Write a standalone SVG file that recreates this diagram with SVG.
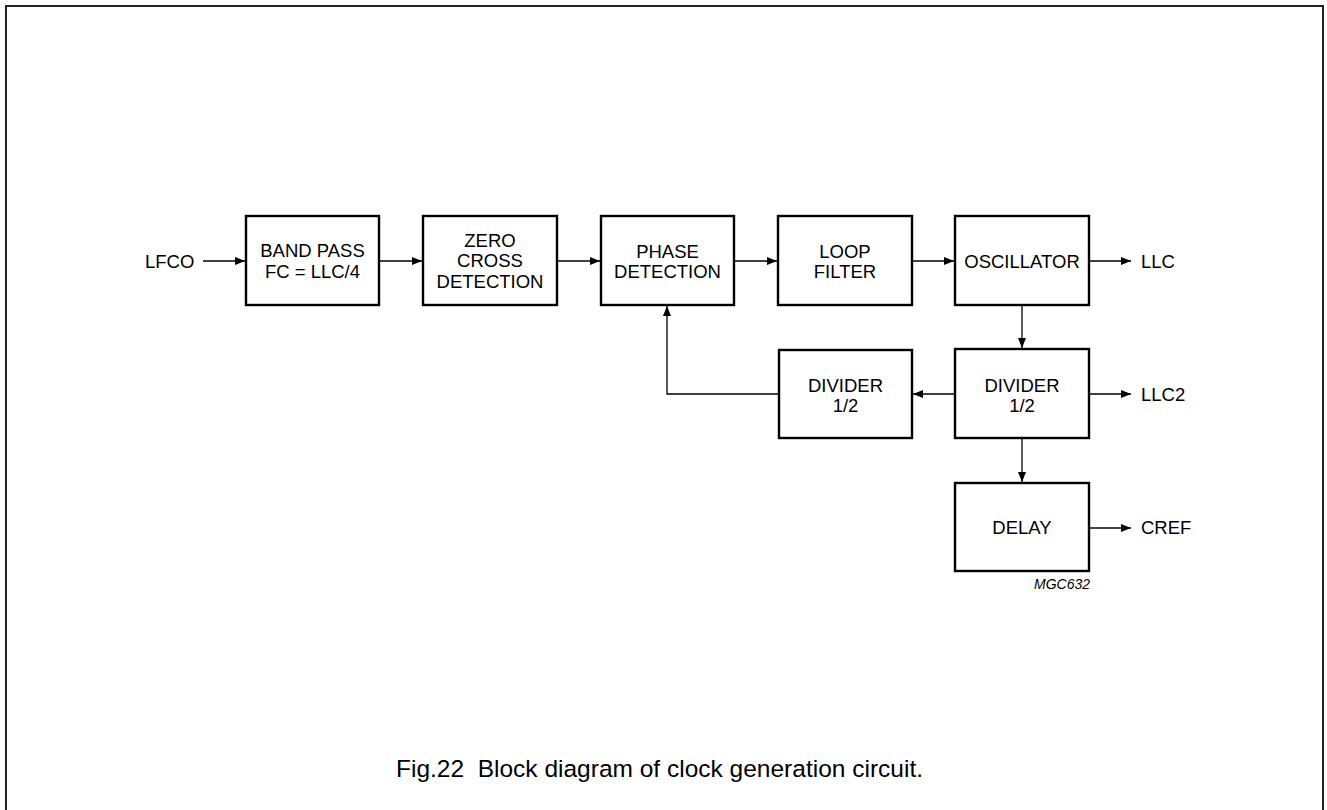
<svg xmlns="http://www.w3.org/2000/svg" width="1327" height="810" viewBox="0 0 1327 810">
<defs>
<style>
.box{fill:#fff;stroke:#000;stroke-width:2.4}
.t{font-family:"Liberation Sans",Arial,sans-serif;font-size:18.5px;fill:#000;text-anchor:middle}
.l{font-family:"Liberation Sans",Arial,sans-serif;font-size:18.5px;fill:#000}
.c{fill:none;stroke:#000;stroke-width:1.3}
</style>
<marker id="ah" viewBox="0 0 10 8" refX="10" refY="4" markerWidth="10" markerHeight="8" markerUnits="userSpaceOnUse" orient="auto">
<path d="M0,0 L10,4 L0,8 Z" fill="#000"/>
</marker>
</defs>
<rect width="1327" height="810" fill="#fff"/>
<path d="M6,810 V6 H1323 V810" fill="none" stroke="#222" stroke-width="2"/>
<g id="connectors">
<line class="c" x1="203" y1="261" x2="245" y2="261" marker-end="url(#ah)"/>
<line class="c" x1="380" y1="261" x2="422" y2="261" marker-end="url(#ah)"/>
<line class="c" x1="558" y1="261" x2="600" y2="261" marker-end="url(#ah)"/>
<line class="c" x1="735" y1="261" x2="777" y2="261" marker-end="url(#ah)"/>
<line class="c" x1="913" y1="261" x2="954" y2="261" marker-end="url(#ah)"/>
<line class="c" x1="1090" y1="261" x2="1131" y2="261" marker-end="url(#ah)"/>
<line class="c" x1="1022" y1="306" x2="1022" y2="348" marker-end="url(#ah)"/>
<line class="c" x1="1090" y1="394" x2="1131" y2="394" marker-end="url(#ah)"/>
<line class="c" x1="954" y1="394" x2="913" y2="394" marker-end="url(#ah)"/>
<line class="c" x1="1022" y1="439" x2="1022" y2="482" marker-end="url(#ah)"/>
<line class="c" x1="1090" y1="528" x2="1131" y2="528" marker-end="url(#ah)"/>
<path class="c" d="M779,394 H667 V306" marker-end="url(#ah)"/>
</g>
<g id="bandpass">
<rect class="box" x="246" y="216" width="133" height="89"/>
<text class="t" x="312.5" y="257">BAND PASS</text>
<text class="t" x="312.5" y="278">FC = LLC/4</text>
</g>
<g id="zerocross">
<rect class="box" x="423" y="216" width="134" height="89"/>
<text class="t" x="490" y="247">ZERO</text>
<text class="t" x="490" y="267">CROSS</text>
<text class="t" x="490" y="288">DETECTION</text>
</g>
<g id="phase">
<rect class="box" x="601" y="216" width="133" height="89"/>
<text class="t" x="667.5" y="258">PHASE</text>
<text class="t" x="667.5" y="278">DETECTION</text>
</g>
<g id="loopfilter">
<rect class="box" x="778" y="216" width="134" height="89"/>
<text class="t" x="845" y="258">LOOP</text>
<text class="t" x="845" y="278">FILTER</text>
</g>
<g id="oscillator">
<rect class="box" x="955" y="216" width="134" height="89"/>
<text class="t" x="1022" y="268">OSCILLATOR</text>
</g>
<g id="divider1">
<rect class="box" x="955" y="349" width="134" height="89"/>
<text class="t" x="1022" y="392">DIVIDER</text>
<text class="t" x="1022" y="412">1/2</text>
</g>
<g id="divider2">
<rect class="box" x="779" y="350" width="133" height="88"/>
<text class="t" x="845.5" y="392">DIVIDER</text>
<text class="t" x="845.5" y="412">1/2</text>
</g>
<g id="delay">
<rect class="box" x="955" y="483" width="134" height="88"/>
<text class="t" x="1022" y="534">DELAY</text>
</g>
<g id="labels">
<text class="l" x="145" y="268">LFCO</text>
<text class="l" x="1141" y="268">LLC</text>
<text class="l" x="1141" y="401">LLC2</text>
<text class="l" x="1141" y="534">CREF</text>
<text x="1090" y="589" font-family="'Liberation Sans',Arial,sans-serif" font-size="14" font-style="italic" text-anchor="end">MGC632</text>
<text x="396" y="777" font-family="'Liberation Sans',Arial,sans-serif" font-size="24.5" xml:space="preserve">Fig.22  Block diagram of clock generation circuit.</text>
</g>
</svg>
